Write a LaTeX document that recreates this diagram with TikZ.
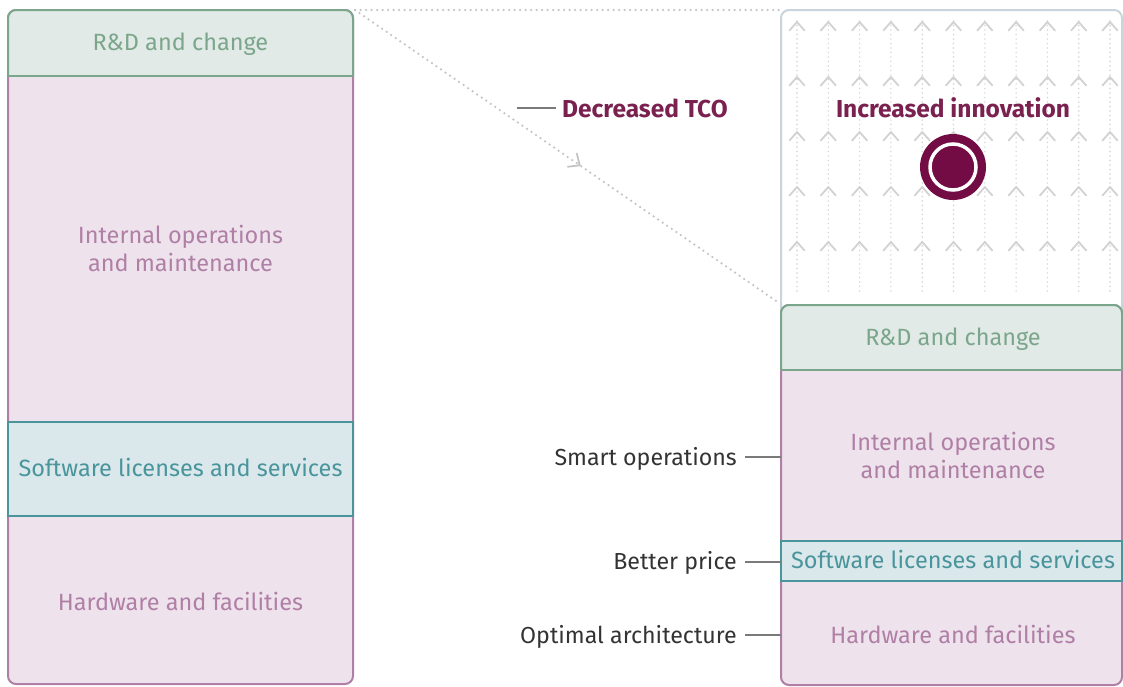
\documentclass[tikz,border=0pt]{standalone}
\usepackage{fontspec}
\setmainfont{Fira Sans}
\definecolor{rdfill}{HTML}{E1EAE6}
\definecolor{rdline}{HTML}{7BA68B}
\definecolor{opfill}{HTML}{EEE3EC}
\definecolor{opline}{HTML}{B07FA6}
\definecolor{swfill}{HTML}{DAE8EC}
\definecolor{swline}{HTML}{4A949C}
\definecolor{wine}{HTML}{7A2150}
\definecolor{winedark}{HTML}{730B45}
\definecolor{dotgrey}{HTML}{C4C4C4}
\definecolor{patgrey}{HTML}{D2D2D2}
\definecolor{innoline}{HTML}{C9D5DB}
\definecolor{labelgrey}{HTML}{333333}
\definecolor{tickgrey}{HTML}{7A7A7A}
\begin{document}
\begin{tikzpicture}[x=1pt,y=-1pt,
  sect/.style={line width=2pt},
  txt/.style={font=\fontsize{23.5}{28}\selectfont, inner sep=0pt, align=center},
  boldtxt/.style={txt, font=\fontsize{24.5}{28}\selectfont\bfseries, text=wine},
  lbl/.style={font=\fontsize{23.2}{28}\selectfont, text=labelgrey, inner ysep=0pt, inner xsep=8pt},
  tick/.style={draw=tickgrey, line width=1.3pt},
  dotline/.style={draw=dotgrey, line width=2.5pt, line cap=round, dash pattern=on 0pt off 5.5pt},
  chev/.style={draw=patgrey, line width=1.8pt, line cap=round, line join=round}]
\useasboundingbox (0,0) rectangle (1123,686);

% ---------- left stack ----------
\path[sect, fill=opfill, draw=opline, rounded corners=8pt] (8,10) rectangle (353,684);
\path[sect, fill=rdfill, draw=rdline, rounded corners=8pt] (8,76) -- (8,10) -- (353,10) -- (353,76);
\draw[sect, rdline] (8,76) -- (353,76);
\draw[sect, fill=swfill, draw=swline] (8,422) rectangle (353,516);
\node[txt, text=rdline, anchor=base] (lrd) at (180.5,50.5) {R\&D and change};
\node[txt, text=opline] (lops) at (180.5,248) {Internal operations\\and maintenance};
\node[txt, text=swline, anchor=base] (lsw) at (180.5,476) {Software licenses and services};
\node[txt, text=opline, anchor=base] (lhw) at (180.5,610) {Hardware and facilities};

% ---------- innovation box ----------
\path[sect, fill=white, draw=innoline, rounded corners=8pt] (781,320) -- (781,10) -- (1122,10) -- (1122,320);
\foreach \i in {0,...,10} {
  \pgfmathsetmacro{\cx}{797+31.3*\i}
  \draw[draw=patgrey, line width=1.6pt, line cap=round, dash pattern=on 0pt off 4.5pt] (\cx,21) -- (\cx,293);
  \foreach \r in {0,...,4} {
    \pgfmathsetmacro{\cy}{22+55*\r}
    \draw[chev] (\cx-7.5,\cy+8.5) -- (\cx,\cy) -- (\cx+7.5,\cy+8.5);
  }
}
\node[boldtxt, anchor=base] (inno) at (953,117) {Increased innovation};
\fill[winedark] (953,167) circle (33);
\draw[white, line width=3.5pt] (953,167) circle (23);
\node[inner sep=0pt, minimum size=66pt] (dot) at (953,167) {};

% ---------- right stack ----------
\path[sect, fill=opfill, draw=opline, rounded corners=8pt] (781,305) rectangle (1122,685);
\path[sect, fill=rdfill, draw=rdline, rounded corners=8pt] (781,370) -- (781,305) -- (1122,305) -- (1122,370);
\draw[sect, rdline] (781,370) -- (1122,370);
\draw[sect, fill=swfill, draw=swline] (781,541) rectangle (1122,581);
\node[txt, text=rdline, anchor=base] (rrd) at (953,345) {R\&D and change};
\node[txt, text=opline] (rops) at (953,455.5) {Internal operations\\and maintenance};
\node[txt, text=swline, anchor=base] (rsw) at (953,568.5) {Software licenses and services};
\node[txt, text=opline, anchor=base] (rhw) at (953,643) {Hardware and facilities};

% ---------- dotted connectors ----------
\coordinate (ltop) at (355,10);
\coordinate (itop) at (779,10);
\coordinate (rtop) at (779,303);
\draw[dotline] (ltop) -- (itop);
\draw[dotline] (ltop) -- (rtop);
\path (ltop) -- (rtop) coordinate[pos=0.53] (mid);
\begin{scope}[shift={(mid)}, rotate=-34.6]
  \draw[chev, draw=dotgrey, line width=1.8pt] (-9,-8) -- (0,0) -- (-9,8);
\end{scope}

% ---------- TCO label ----------
\node[boldtxt, anchor=base west, inner xsep=6pt] (tco) at (556,117) {Decreased TCO};
\coordinate (tcoL) at (517,108);
\draw[tick] (tcoL) -- (tcoL -| tco.west);

% ---------- side labels ----------
\node[lbl, anchor=base east] (smart) at (745,465) {Smart operations};
\node[lbl, anchor=base east] (price) at (745,569) {Better price};
\node[lbl, anchor=base east] (arch) at (745,643) {Optimal architecture};
\coordinate (e1) at (781,457);
\coordinate (e2) at (781,562);
\coordinate (e3) at (781,635);
\draw[tick] (smart.east |- e1) -- (e1);
\draw[tick] (price.east |- e2) -- (e2);
\draw[tick] (arch.east |- e3) -- (e3);
\end{tikzpicture}
\end{document}
